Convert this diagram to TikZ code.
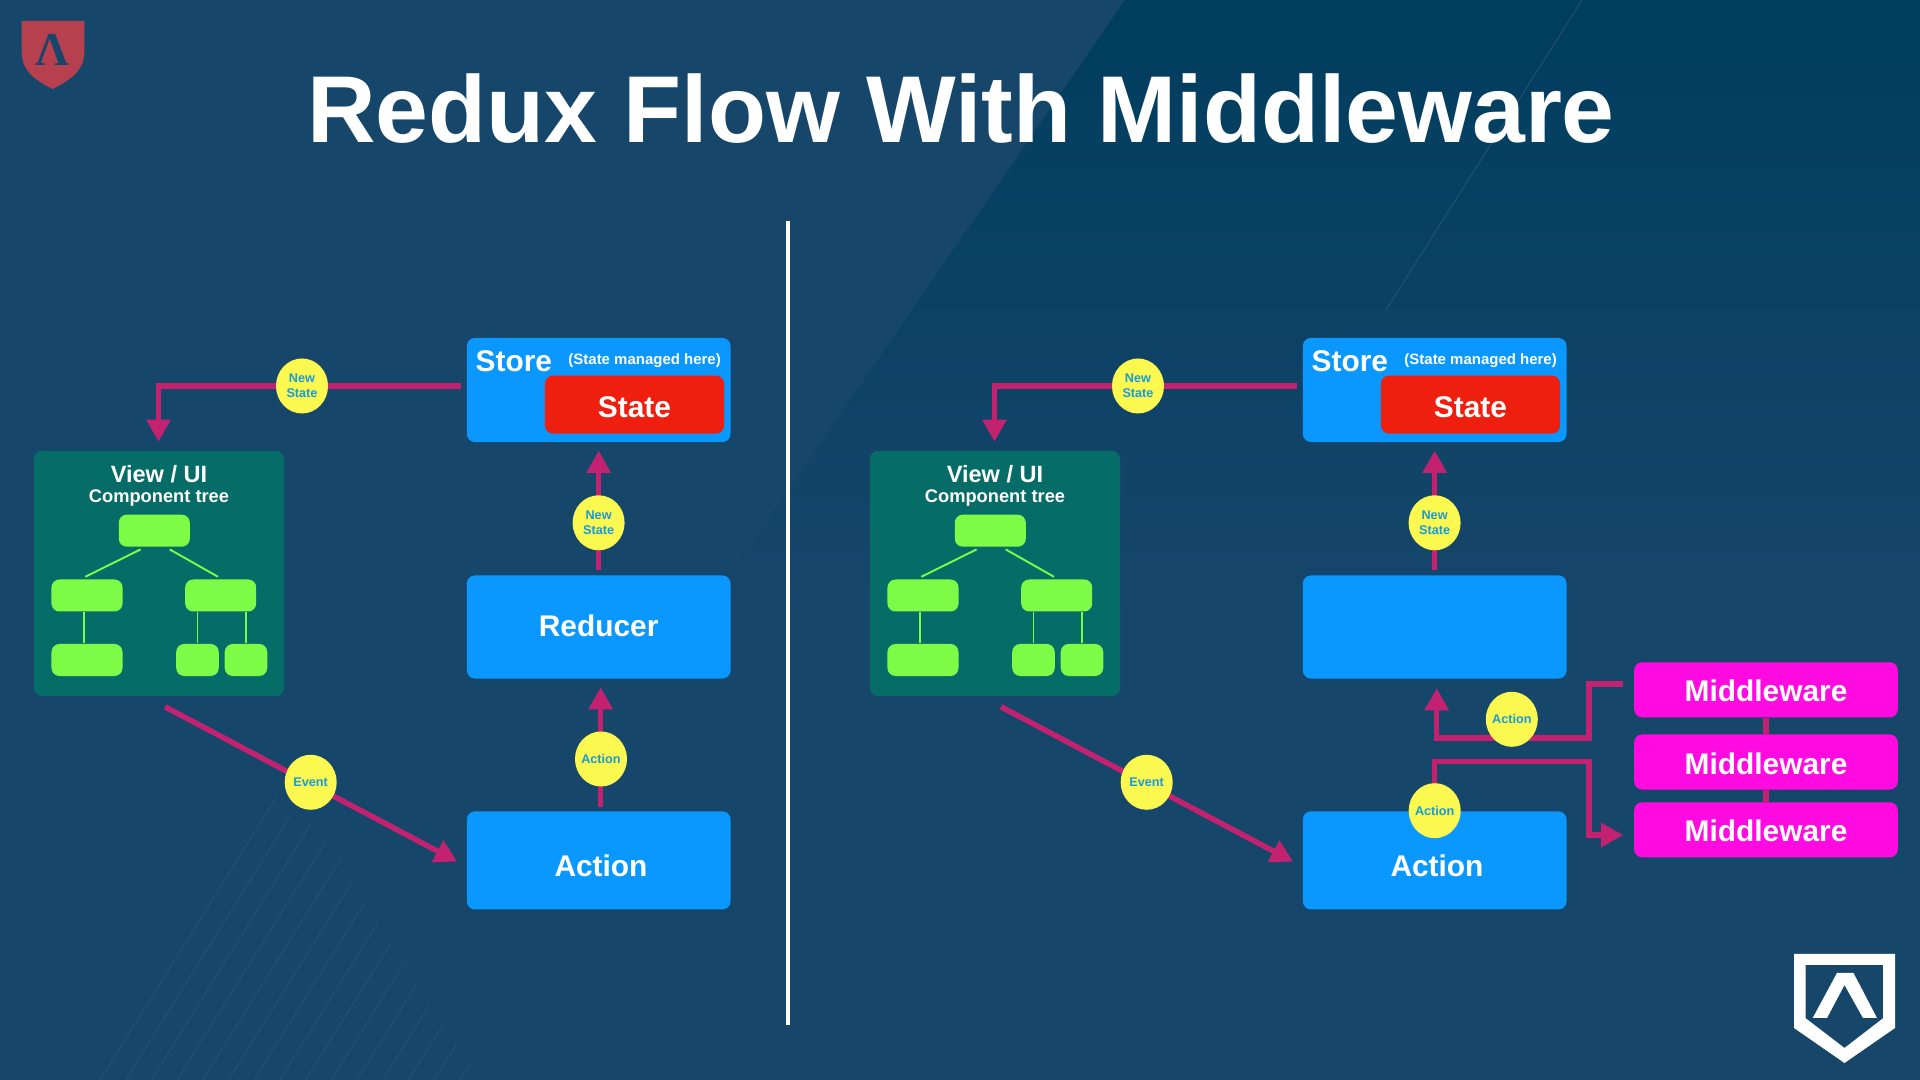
\documentclass[tikz,border=0pt]{standalone}
\usepackage{fontspec}
\setmainfont{Liberation Sans}
\newfontfamily\logofont{Liberation Serif}
\usetikzlibrary{arrows.meta,shapes.geometric}
\definecolor{slidebg}{HTML}{17466B}
\definecolor{slidedark}{HTML}{003D5E}
\definecolor{hatchline}{HTML}{215074}
\definecolor{boxblue}{HTML}{0A98FF}
\definecolor{boxred}{HTML}{EE1F0F}
\definecolor{boxpink}{HTML}{FF0AE0}
\definecolor{viewteal}{HTML}{056C68}
\definecolor{treegreen}{HTML}{7DFB46}
\definecolor{flowpink}{HTML}{C2226F}
\definecolor{bubbleyellow}{HTML}{FBF84F}
\definecolor{bubbletext}{HTML}{1A9AD6}
\definecolor{shieldred}{HTML}{B7404F}
\tikzset{
	bigbox/.style={fill=boxblue,rounded corners=.8mm,minimum width=2.635cm,minimum height=#1,inner sep=0pt,text=white,font=\bfseries\fontsize{8.5}{10}\selectfont},
	statebox/.style={fill=boxred,rounded corners=.8mm,minimum width=1.79cm,minimum height=.58cm,inner sep=0pt,text height=7.6pt,text=white,font=\bfseries\fontsize{8.5}{10}\selectfont},
	middlebox/.style={fill=boxpink,rounded corners=.8mm,minimum width=2.635cm,minimum height=.55cm,inner sep=0pt,text height=6.9pt,text depth=0pt,text=white,font=\bfseries\fontsize{8.5}{10}\selectfont},
	viewbox/.style={fill=viewteal,rounded corners=.8mm,minimum width=2.5cm,minimum height=2.45cm,inner sep=0pt},
	treebox/.style={fill=treegreen,rounded corners=.8mm,minimum width=#1,minimum height=.32cm,inner sep=0pt},
	treeline/.style={draw=treegreen,line width=.55pt},
	flowline/.style={draw=flowpink,line width=1.55pt,line cap=butt},
	bubble/.style={ellipse,fill=bubbleyellow,minimum width=.52cm,minimum height=.55cm,inner sep=-.6mm,align=center,text=bubbletext,font=\bfseries\fontsize{3.6}{4.3}\selectfont},
	whitetext/.style={inner sep=0pt,text=white,font=\bfseries\fontsize{#1}{#1}\selectfont}
}
\begin{document}
\begin{tikzpicture}[x=.01cm,y=-.01cm,>={Triangle[length=6.3pt,width=6.6pt]},line join=miter]
	\useasboundingbox (0,0) rectangle (1920,1080);
	\fill[slidebg] (0,0) rectangle (1920,1080);
	\shade[top color=slidedark,bottom color=slidebg] (1125,0) -- (1920,0) -- (1920,620) -- (699,620) -- cycle;
	\draw[hatchline,line width=.3pt] (1582,0) -- (1386,310);
	\foreach \i/\ty in {0/797,1/815,2/822,3/842,4/858,5/883,6/903,7/923,8/943,9/963,10/984,11/1005,12/1024,13/1043,14/1065}
		\draw[hatchline,line width=.3pt] ({100+25.7*\i+(1080-\ty)*.6235},\ty) -- ({100+25.7*\i},1080);
	\fill[shieldred] (21.7,21) -- (84.3,21) -- (84.3,52) .. controls (84.3,72) and (68,81) .. (52.7,89) .. controls (37,81) and (21.7,72) .. (21.7,52) -- cycle;
	\node[inner sep=0pt,anchor=base,text=slidebg,font=\logofont\bfseries\fontsize{13.4}{14}\selectfont] (shieldmark) at (52.7,66) {Λ};
	\node[whitetext=27,anchor=base] (title) at (961,142.5) {Redux Flow With Middleware};
	\node[minimum width=0pt,inner sep=0pt] (divtop) at (788,219) {};
	\node[minimum width=0pt,inner sep=0pt] (divbottom) at (788,1027) {};
	\draw[white,line width=1.15pt] (divtop) -- (divbottom);
	\foreach \p/\dx/\rname in {l/0/Reducer,r/836/{}}{
		\begin{scope}[shift={(\dx,0)},name prefix=\p-]
			\node[bigbox=1.04cm] (store) at (598.7,390) {};
			\node[statebox] (state) at (634.5,404.6) {State};
			\node[whitetext=8.5,anchor=base west] (storename) at (475,371.5) {Store};
			\node[whitetext=4.26,anchor=base east] (storenote) at (721.5,364.5) {(State managed here)};
			\node[bigbox=1.03cm,text depth=.6pt] (reducer) at (598.7,627) {\rname};
			\node[bigbox=.98cm] (action) at (598.7,860.4) {};
			\node[whitetext=8.5] (actionname) at (601,866) {Action};
			\node[viewbox] (view) at (159,573.5) {};
			\node[whitetext=6.7] (viewname) at (159,474) {View / UI};
			\node[whitetext=5.2] (viewnote) at (159,498.5) {Component tree};
			\node[treebox=.71cm] (treea) at (154.3,530.7) {};
			\node[treebox=.71cm] (treeb) at (87,595.5) {};
			\node[treebox=.71cm] (treec) at (220.7,595.5) {};
			\node[treebox=.71cm] (treed) at (87,660) {};
			\node[treebox=.425cm] (treee) at (197.5,660) {};
			\node[treebox=.425cm] (treef) at (246,660) {};
			\draw[treeline] ([shift={(-13.7,2)}]treea.south) -- ([shift={(-1.7,-2)}]treeb.north);
			\draw[treeline] ([shift={(15.4,2)}]treea.south) -- ([shift={(-2.7,-2)}]treec.north);
			\draw[treeline] ([xshift=-.8pt]treeb.south) -- ([xshift=-.8pt]treed.north);
			\draw[treeline] (treee.north) -- (treee.north |- treec.south);
			\draw[treeline] (treef.north) -- (treef.north |- treec.south);
			\draw[flowline,->] ([shift={(-5,-4)}]store.west) -| ([shift={(-.5,-8.5)}]view.north);
			\draw[flowline,->] ([shift={(0,-4.5)}]reducer.north) -- ([shift={(0,8)}]store.south);
			\draw[flowline,->] ([shift={(6,10)}]view.south) -- ([shift={(-9,1.2)}]action.west);
			\node[bubble] (bubbleview) at (302,386) {New\\State};
			\node[bubble] (bubblestore) at (598.6,522.8) {New\\State};
			\node[bubble] (bubbleevent) at (310.7,782.3) {Event};
		\end{scope}
	}
	\draw[flowline,->] ([shift={(2,-3.4)}]l-action.north) -- ([shift={(2,8)}]l-reducer.south);
	\node[bubble] (l-bubbleaction) at (601,759) {Action};
	\node[middlebox] (ma) at (1766,689.8) {Middleware};
	\node[middlebox] (mb) at (1766,762) {Middleware};
	\node[middlebox] (mc) at (1766,829.8) {Middleware};
	\draw[flowline] (ma) -- (mb);
	\draw[flowline] (mb) -- (mc);
	\coordinate (upbend) at (1589,738);
	\coordinate (lowbend) at (1589,761.7);
	\draw[flowline,->] ([shift={(-10.3,-5.8)}]ma.west) -| (upbend) -| ([shift={(2,9)}]r-reducer.south);
	\draw[flowline,->] (r-action.north) |- (lowbend) |- ([shift={(-10.3,5.2)}]mc.west);
	\node[bubble] (r-bubbleup) at (1511.8,719.3) {Action};
	\node[bubble] (r-bubbleaction) at (1434.7,810.7) {Action};
	\fill[white,even odd rule] (1794,954) -- (1895,954) -- (1895,1028) -- (1844.5,1063) -- (1794,1028) -- cycle
		(1805.7,965) -- (1883,965) -- (1883,1018.3) -- (1844.5,1048) -- (1805.7,1018.3) -- cycle;
	\fill[white] (1837,973) -- (1853.5,973) -- (1877,1018) -- (1863,1018) -- (1844.5,985) -- (1827,1018) -- (1812.7,1018) -- cycle;
\end{tikzpicture}
\end{document}
